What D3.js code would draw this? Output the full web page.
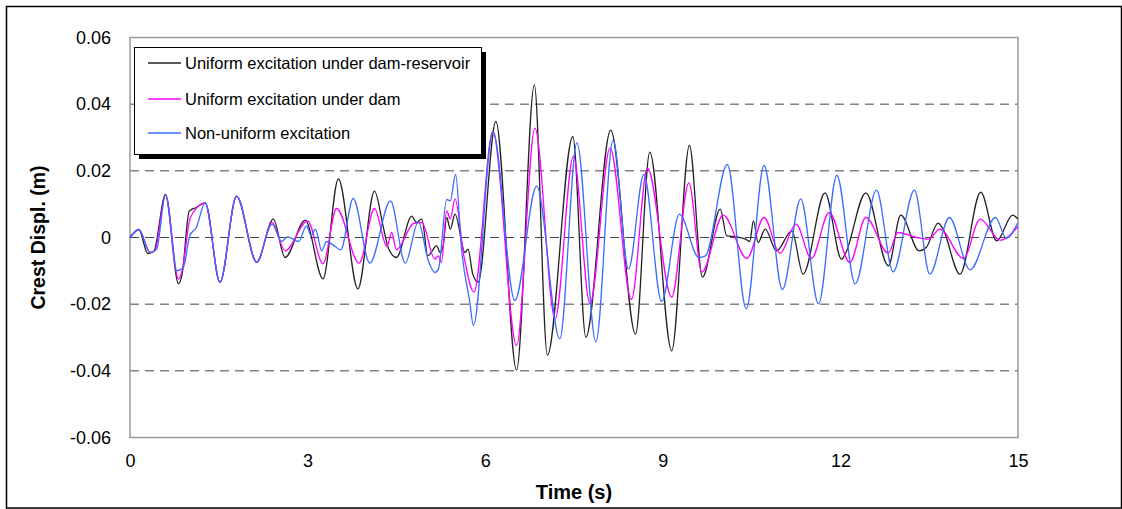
<!DOCTYPE html>
<html>
<head>
<meta charset="utf-8">
<script src="https://cdn.jsdelivr.net/npm/d3@7"></script>
<style>
  body { margin: 0; background: #fff; }
  text { font-family: Arial, "Liberation Sans", sans-serif; fill: #000; }
</style>
</head>
<body>
<svg id="chart"></svg>
<script>
// time (s), crest displacement (m)
const damReservoir = [[0,0],[0.15,0.0024],[0.30,-0.0048],[0.40,-0.0042],[0.60,0.0129],[0.82,-0.0139],[0.88,-0.011],[1.00,0.0079],[1.12,0.009],[1.27,0.0104],[1.52,-0.0134],[1.80,0.0124],[2.14,-0.0074],[2.42,0.0055],[2.62,-0.006],[2.96,0.0052],[3.26,-0.0124],[3.52,0.0176],[3.85,-0.0154],[4.13,0.0139],[4.28,0.003],[4.36,-0.003],[4.50,-0.006],[4.76,0.0064],[4.84,0.0045],[4.93,0.0055],[5.03,-0.0055],[5.18,-0.0025],[5.24,-0.0045],[5.29,-0.0025],[5.35,0.006],[5.41,0.0025],[5.49,0.007],[5.66,-0.0045],[5.71,-0.0035],[5.79,-0.011],[5.88,-0.0134],[6.18,0.0348],[6.53,-0.0398],[6.83,0.0458],[7.05,-0.0353],[7.48,0.0303],[7.70,-0.0299],[8.12,0.0322],[8.54,-0.029],[8.78,0.0256],[9.15,-0.034],[9.45,0.0276],[9.67,-0.0119],[9.97,0.0085],[10.08,0.0005],[10.25,0.0002],[10.40,-0.0005],[10.47,-0.0012],[10.53,0.005],[10.61,-0.0015],[10.73,0.0025],[10.92,-0.004],[11.18,0.002],[11.37,-0.011],[11.74,0.0134],[12.02,-0.0065],[12.08,-0.005],[12.43,0.0134],[12.81,-0.0085],[13.02,0.0067],[13.33,-0.004],[13.45,-0.003],[13.65,0.0043],[13.72,0.003],[14.02,-0.011],[14.37,0.0136],[14.64,-0.001],[14.91,0.0067],[15.0,0.0055]];

const damOnly = [[0,0],[0.15,0.0024],[0.34,-0.0045],[0.42,-0.004],[0.60,0.0127],[0.82,-0.0125],[0.88,-0.010],[1.02,0.006],[1.27,0.0104],[1.52,-0.0134],[1.80,0.0124],[2.14,-0.0074],[2.40,0.0045],[2.62,-0.004],[3.00,0.005],[3.26,-0.0079],[3.49,0.0087],[3.87,-0.0077],[4.13,0.0087],[4.34,-0.0027],[4.42,0.0015],[4.50,-0.0037],[4.79,0.0042],[4.93,0.0045],[5.15,-0.0065],[5.21,-0.0055],[5.26,-0.0075],[5.35,0.008],[5.41,0.0055],[5.49,0.0116],[5.64,-0.0055],[5.81,-0.0164],[6.13,0.0318],[6.53,-0.0324],[6.84,0.0328],[7.18,-0.0244],[7.49,0.0244],[7.77,-0.0199],[8.11,0.0269],[8.47,-0.0186],[8.74,0.0209],[9.15,-0.0179],[9.44,0.0164],[9.66,-0.0104],[10.02,0.0067],[10.42,-0.0063],[10.71,0.006],[10.98,-0.0047],[11.25,0.004],[11.51,-0.0063],[11.81,0.0075],[12.16,-0.0075],[12.43,0.006],[12.81,-0.0047],[12.97,0.0015],[13.29,0.0],[13.49,-0.0005],[13.68,0.0025],[14.08,-0.0063],[14.36,0.0055],[14.70,-0.0008],[15.0,0.0033]];

const nonUniform = [[0,0],[0.15,0.0024],[0.34,-0.0045],[0.45,-0.0035],[0.60,0.0127],[0.79,-0.010],[0.90,-0.009],[1.01,0.0005],[1.12,0.003],[1.27,0.0104],[1.52,-0.0134],[1.80,0.0124],[2.14,-0.0074],[2.40,0.004],[2.56,-0.0012],[2.66,0.0002],[2.85,-0.0012],[2.98,0.0035],[3.06,0.0005],[3.13,0.0025],[3.24,-0.004],[3.32,-0.0012],[3.45,-0.0025],[3.56,-0.0037],[3.77,0.0117],[4.05,-0.0077],[4.40,0.011],[4.65,-0.0077],[4.87,0.0047],[5.04,-0.007],[5.15,-0.0105],[5.21,-0.0095],[5.35,0.0114],[5.41,0.011],[5.50,0.0189],[5.60,-0.0035],[5.74,-0.0194],[5.80,-0.0264],[6.13,0.0318],[6.50,-0.0189],[6.87,0.0154],[7.26,-0.0304],[7.55,0.0284],[7.87,-0.0313],[8.16,0.0293],[8.42,-0.0095],[8.68,0.0189],[8.98,-0.0192],[9.28,0.007],[9.61,-0.006],[9.72,-0.0055],[10.09,0.0219],[10.41,-0.0214],[10.71,0.0216],[11.02,-0.0156],[11.33,0.0116],[11.63,-0.0199],[11.94,0.0186],[12.25,-0.0139],[12.61,0.0142],[12.89,-0.0103],[13.25,0.0142],[13.51,-0.011],[13.84,0.006],[14.19,-0.0097],[14.62,0.006],[14.80,-0.0002],[15.0,0.0045]];

const seriesNames = ["Uniform excitation under dam-reservoir", "Uniform excitation under dam", "Non-uniform excitation"];
const seriesColors = ["#222222", "#ff00ff", "#3a6dff"];
const xTicks = [0, 3, 6, 9, 12, 15];
const yTicks = [-0.06, -0.04, -0.02, 0, 0.02, 0.04, 0.06];
const yGrid = [-0.04, -0.02, 0, 0.02, 0.04];

const w = 1122;
const h = 509;
const plot = {left: 130, top: 37.5, right: 1018, bottom: 437.5};

const svg = d3.select("#chart")
              .attr("width", w)
              .attr("height", h);

// outer frame
svg.append("rect")
   .attr("x", 6.5).attr("y", 6.5)
   .attr("width", 1115).attr("height", 501.5)
   .attr("fill", "none")
   .attr("stroke", "#000")
   .attr("stroke-width", 1.5);

const x = d3.scaleLinear().domain([0, 15]).range([plot.left, plot.right]);
const y = d3.scaleLinear().domain([-0.06, 0.06]).range([plot.bottom, plot.top]);

// dashed gridlines
svg.append("g")
   .selectAll("line")
   .data(yGrid)
   .enter()
   .append("line")
   .attr("x1", plot.left).attr("x2", plot.right)
   .attr("y1", d => y(d)).attr("y2", d => y(d))
   .attr("stroke", "#444")
   .attr("stroke-width", 1)
   .attr("stroke-dasharray", "9,6");

// plot area border
svg.append("rect")
   .attr("x", plot.left).attr("y", plot.top)
   .attr("width", plot.right - plot.left)
   .attr("height", plot.bottom - plot.top)
   .attr("fill", "none")
   .attr("stroke", "#9a9a9a")
   .attr("stroke-width", 1.5);

// y axis (plain hyphen for negatives, like the original)
const yAxis = svg.append("g")
   .attr("transform", "translate(" + plot.left + ",0)")
   .call(d3.axisLeft(y).tickValues(yTicks).tickSize(0).tickPadding(19)
           .tickFormat(d => d === 0 ? "0" : (d < 0 ? "-" : "") + d3.format(".2f")(Math.abs(d))));
yAxis.select(".domain").remove();
yAxis.selectAll("text").style("font-size", "18px");

// x axis
const xAxis = svg.append("g")
   .attr("transform", "translate(0," + plot.bottom + ")")
   .call(d3.axisBottom(x).tickValues(xTicks).tickSize(0).tickPadding(17));
xAxis.select(".domain").remove();
xAxis.selectAll("text").style("font-size", "18px");

// lines
const line = d3.line()
               .x(d => x(d[0]))
               .y(d => y(d[1]))
               .curve(d3.curveMonotoneX);

const allSeries = [damReservoir, damOnly, nonUniform];

svg.append("g")
   .selectAll("path")
   .data(allSeries)
   .enter()
   .append("path")
   .attr("d", line)
   .attr("fill", "none")
   .attr("stroke", (d, i) => seriesColors[i])
   .attr("stroke-width", 1.3);

// legend
const lg = svg.append("g");
lg.append("rect")
  .attr("x", 139).attr("y", 52)
  .attr("width", 347).attr("height", 107)
  .attr("fill", "#000");
lg.append("rect")
  .attr("x", 134.5).attr("y", 47.5)
  .attr("width", 347).attr("height", 107)
  .attr("fill", "#fff")
  .attr("stroke", "#000")
  .attr("stroke-width", 1);

const rowY = [63, 99, 133];
seriesNames.forEach((name, i) => {
  lg.append("line")
    .attr("x1", 148).attr("x2", 181)
    .attr("y1", rowY[i]).attr("y2", rowY[i])
    .attr("stroke", seriesColors[i])
    .attr("stroke-width", 1.3);
  lg.append("text")
    .attr("x", 185)
    .attr("y", rowY[i] + 6)
    .style("font-size", "16.5px")
    .text(name);
});

// axis titles
svg.append("text")
   .attr("x", (plot.left + plot.right) / 2)
   .attr("y", 499)
   .attr("text-anchor", "middle")
   .style("font-size", "20px")
   .style("font-weight", "bold")
   .text("Time (s)");

svg.append("text")
   .attr("transform", "translate(45," + ((plot.top + plot.bottom) / 2) + ") rotate(-90)")
   .attr("text-anchor", "middle")
   .style("font-size", "19.5px")
   .style("font-weight", "bold")
   .text("Crest Displ. (m)");
</script>
</body>
</html>
